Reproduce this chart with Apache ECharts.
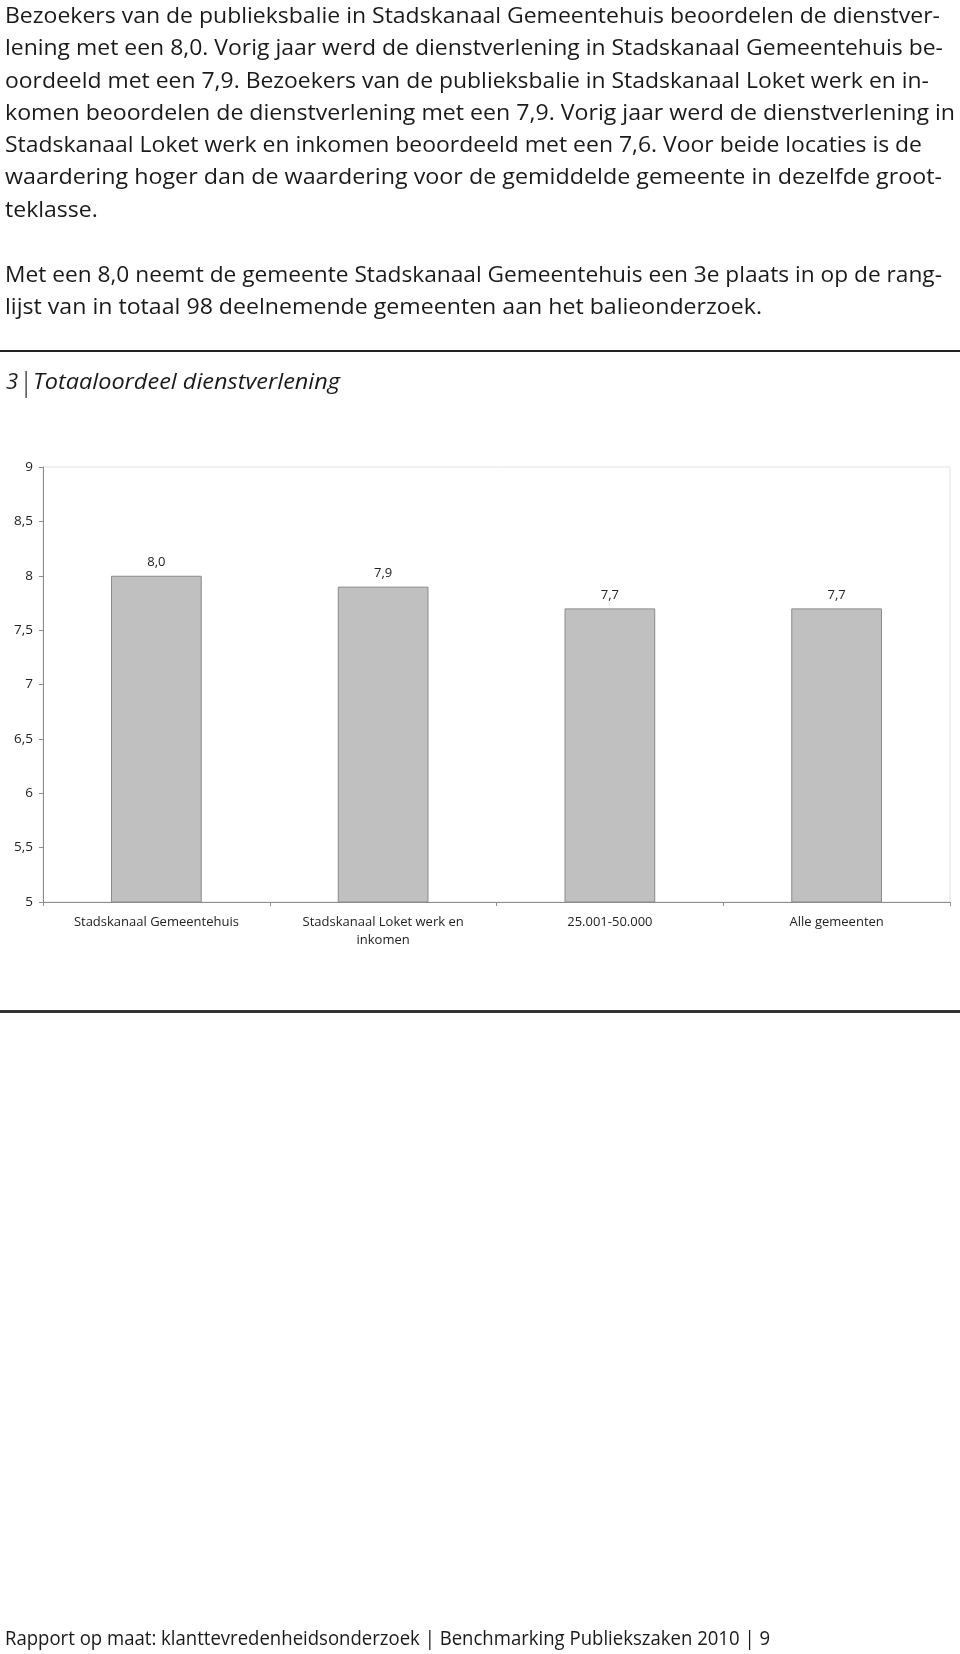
<!DOCTYPE html>
<html>
<head>
<meta charset="utf-8">
<script src="https://cdn.jsdelivr.net/npm/echarts@6/dist/echarts.min.js"></script>
<style>
html,body{margin:0;padding:0;background:#fff;}
#c{width:960px;height:1654px;}
</style>
</head>
<body>
<div id="c"></div>
<script>
// ---- data ----
const categories = ['Stadskanaal Gemeentehuis', 'Stadskanaal Loket werk en\ninkomen', '25.001-50.000', 'Alle gemeenten'];
const scores = [8.0, 7.9, 7.7, 7.7];
const yMin = 5, yMax = 9, yStep = 0.5;

const para1 = [
  'Bezoekers van de publieksbalie in Stadskanaal Gemeentehuis beoordelen de dienstver-',
  'lening met een 8,0. Vorig jaar werd de dienstverlening in Stadskanaal Gemeentehuis be-',
  'oordeeld met een 7,9. Bezoekers van de publieksbalie in Stadskanaal Loket werk en in-',
  'komen beoordelen de dienstverlening met een 7,9. Vorig jaar werd de dienstverlening in',
  'Stadskanaal Loket werk en inkomen beoordeeld met een 7,6. Voor beide locaties is de',
  'waardering hoger dan de waardering voor de gemiddelde gemeente in dezelfde groot-',
  'teklasse.'
];
const para2 = [
  'Met een 8,0 neemt de gemeente Stadskanaal Gemeentehuis een 3e plaats in op de rang-',
  'lijst van in totaal 98 deelnemende gemeenten aan het balieonderzoek.'
];
const chartNumber = '3';
const chartTitle = 'Totaaloordeel dienstverlening';
const footer = 'Rapport op maat: klanttevredenheidsonderzoek | Benchmarking Publiekszaken 2010 | 9';

// ---- layout (line widths as set in the reference; null = paragraph average scale) ----
const para1Widths = [935, 938, 924, 950, 917, 937, null];
const para2Widths = [937, 757];

const bodyFont = '21px "Open Sans"';
const ctx = document.createElement('canvas').getContext('2d');
function measure(t, f) { ctx.font = f; return ctx.measureText(t).width; }
const titleFont = 'italic 22px "Open Sans"';
const titleScale = 307 / measure(chartTitle, titleFont);
const footScale = 765 / measure(footer, '20px "Open Sans"');

const fmt = v => v.toFixed(1).replace('.', ',');
const tickFmt = v => (Math.abs(v - Math.round(v)) < 1e-9 ? String(Math.round(v)) : String(v).replace('.', ','));

const graphics = [];
function addLines(lines, widths, y0, dy) {
  const scales = lines.map((t, i) => widths[i] ? widths[i] / measure(t, bodyFont) : null);
  const known = scales.filter(s => s !== null);
  const avg = known.reduce((a, b) => a + b, 0) / known.length;
  lines.forEach((t, i) => {
    const s = scales[i] === null ? avg : scales[i];
    graphics.push({
      type: 'text', x: 5, y: y0 + i * dy, scaleX: s, scaleY: 1,
      style: { text: t, font: bodyFont, fill: '#1a1a1a', verticalAlign: 'middle' }
    });
  });
}
addLines(para1, para1Widths, 17, 32.3);
addLines(para2, para2Widths, 276, 32.3);

graphics.push({ type: 'rect', shape: { x: 0, y: 350, width: 960, height: 2 }, style: { fill: '#222' } });
graphics.push({ type: 'text', x: 6, y: 383, style: { text: chartNumber, font: 'italic 22px "Open Sans"', fill: '#1a1a1a', verticalAlign: 'middle' } });
graphics.push({ type: 'rect', shape: { x: 25.5, y: 371, width: 1.2, height: 27 }, style: { fill: '#222' } });
graphics.push({ type: 'text', x: 33, y: 383, scaleX: titleScale, scaleY: 1, style: { text: chartTitle, font: titleFont, fill: '#1a1a1a', verticalAlign: 'middle' } });
graphics.push({ type: 'rect', shape: { x: 0, y: 1010, width: 960, height: 3 }, style: { fill: '#333' } });
graphics.push({ type: 'text', x: 5, y: 1639, scaleX: footScale, scaleY: 1, style: { text: footer, font: '20px "Open Sans"', fill: '#1a1a1a', verticalAlign: 'middle' } });

const chart = echarts.init(document.getElementById('c'), null, { renderer: 'canvas' });
chart.setOption({
  animation: false,
  backgroundColor: '#fff',
  grid: { left: 43, right: 10, top: 467, bottom: 752, show: true, borderColor: '#e2e2e2', borderWidth: 1, backgroundColor: 'transparent' },
  xAxis: {
    type: 'category', data: categories,
    axisLine: { lineStyle: { color: '#8c8c8c', width: 1 } },
    axisTick: { show: true, length: 4, lineStyle: { color: '#8c8c8c' } },
    axisLabel: { fontFamily: 'Open Sans', fontSize: 13, color: '#222', margin: 11, lineHeight: 18, interval: 0 }
  },
  yAxis: {
    type: 'value', min: yMin, max: yMax, interval: yStep,
    axisLine: { show: true, lineStyle: { color: '#8c8c8c', width: 1 } },
    axisTick: { show: true, length: 4, lineStyle: { color: '#8c8c8c' } },
    splitLine: { show: false },
    axisLabel: { fontFamily: 'Open Sans', fontSize: 13.5, color: '#222', margin: 10, formatter: tickFmt }
  },
  series: [{
    type: 'bar', data: scores, barWidth: '40%',
    itemStyle: { color: '#c0c0c0', borderColor: '#8a8a8a', borderWidth: 1 },
    label: { show: true, position: 'top', distance: 7, fontFamily: 'Open Sans', fontSize: 13, color: '#222', formatter: p => fmt(p.value) }
  }],
  graphic: graphics
});
</script>
</body>
</html>
